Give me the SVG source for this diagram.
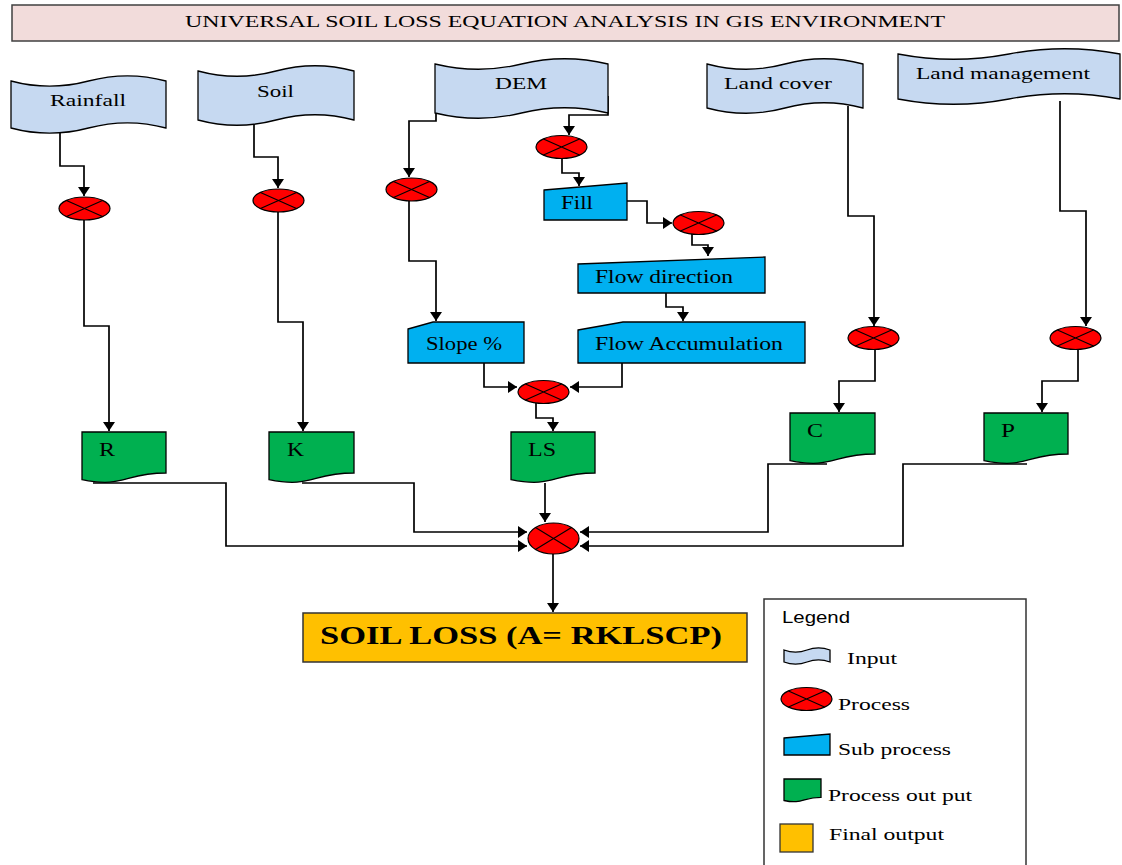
<svg xmlns="http://www.w3.org/2000/svg" width="1122" height="865" viewBox="0 0 1122 865">
<defs>
<style>
.t{font-family:"Liberation Serif","Times New Roman",serif;fill:#000}
.in{fill:#c6d9f1;stroke:#000;stroke-width:1.3}
.sub{fill:#00b0f0;stroke:#000;stroke-width:1.3}
.out{fill:#00b050;stroke:#000;stroke-width:1.3}
.pe{fill:#ff0000;stroke:#000;stroke-width:1.2}
.px{fill:none;stroke:#000;stroke-width:1.1}
.c{fill:none;stroke:#000;stroke-width:1.7;marker-end:url(#ah)}
</style>
<marker id="ah" markerUnits="userSpaceOnUse" markerWidth="12" markerHeight="13" refX="9" refY="6" orient="auto">
<path d="M0,0 L9,6 L0,12 Z" fill="#000"/>
</marker>
<g id="proc">
<ellipse cx="0" cy="0" rx="25.5" ry="11.5" class="pe"/>
<path d="M-18,-8.1 L18,8.1 M-18,8.1 L18,-8.1" class="px"/>
</g>
</defs>
<rect width="1122" height="865" fill="#fff"/>

<g id="title">
<rect x="12" y="5" width="1107" height="36" fill="#f2dcdb" stroke="#404040" stroke-width="1.5"/>
<text class="t" x="185" y="27" font-size="16.5" textLength="760" lengthAdjust="spacingAndGlyphs">UNIVERSAL SOIL LOSS EQUATION ANALYSIS IN GIS ENVIRONMENT</text>
</g>

<g id="connectors">
<path class="c" d="M60,132 V166 H84 V196"/>
<path class="c" d="M84,220 V326 H109 V431"/>
<path class="c" d="M254,124 V157 H278 V188"/>
<path class="c" d="M278,212 V322 H303 V431"/>
<path class="c" d="M436,112 V121 H409 V177"/>
<path class="c" d="M409,201 V261 H436 V321"/>
<path class="c" d="M608,96 V115 H569 V135"/>
<path class="c" d="M562,158 V173 H579 V186"/>
<path class="c" d="M627,201 H647 V223 H672"/>
<path class="c" d="M692,234 V245 H708 V256"/>
<path class="c" d="M666,293 V307 H683 V321"/>
<path class="c" d="M484,363 V387 H517"/>
<path class="c" d="M622,363 V387 H570"/>
<path class="c" d="M536,403 V418 H553 V431"/>
<path class="c" d="M848,106 V216 H874 V326"/>
<path class="c" d="M1060,101 V211 H1086 V326"/>
<path class="c" d="M875,349 V381 H839 V412"/>
<path class="c" d="M1078,349 V381 H1042 V412"/>
<path class="c" d="M93,483 H226 V546 H527"/>
<path class="c" d="M302,483 H414 V532 H527"/>
<path class="c" d="M545,483 V522"/>
<path class="c" d="M827,464 H768 V532 H580"/>
<path class="c" d="M1027,464 H903 V546 H580"/>
<path class="c" d="M553,554 V612"/>
</g>

<g id="rainfall">
<path class="in" d="M11,81 C37,88 62,88 88.5,81 C115,74 140,74 166,81 V128 C140,121 115,121 88.5,128 C62,135 37,135 11,128 Z"/>
<text class="t" x="50" y="106" font-size="17.5" textLength="76" lengthAdjust="spacingAndGlyphs">Rainfall</text>
</g>
<g id="soil">
<path class="in" d="M198,71 C224,78 250,78 276,71 C302,64 328,64 354,71 V120 C328,113 302,113 276,120 C250,127 224,127 198,120 Z"/>
<text class="t" x="257" y="97" font-size="17.5" textLength="37" lengthAdjust="spacingAndGlyphs">Soil</text>
</g>
<g id="dem">
<path class="in" d="M435,64 C464,71 493,71 521.5,64 C550,57 579,57 608,64 V113 C579,106 550,106 521.5,113 C493,120 464,120 435,113 Z"/>
<text class="t" x="495" y="89" font-size="17.5" textLength="52" lengthAdjust="spacingAndGlyphs">DEM</text>
</g>
<g id="landcover">
<path class="in" d="M707,64 C733,71 759,71 785,64 C811,57 837,57 863,64 V108 C837,101 811,101 785,108 C759,115 733,115 707,108 Z"/>
<text class="t" x="724" y="89" font-size="17.5" textLength="108" lengthAdjust="spacingAndGlyphs">Land cover</text>
</g>
<g id="landmanagement">
<path class="in" d="M898,54 C935,61 972,61 1009,54 C1046,47 1083,47 1120,54 V99 C1083,92 1046,92 1009,99 C972,106 935,106 898,99 Z"/>
<text class="t" x="916" y="79" font-size="17.5" textLength="174" lengthAdjust="spacingAndGlyphs">Land management</text>
</g>

<g id="proc-rainfall"><use href="#proc" transform="translate(84.5,208.5)"/></g>
<g id="proc-soil"><use href="#proc" transform="translate(278.5,200.5)"/></g>
<g id="proc-dem-slope"><use href="#proc" transform="translate(411.5,189.5)"/></g>
<g id="proc-dem-fill"><use href="#proc" transform="translate(561.5,147)"/></g>
<g id="proc-flowdir"><use href="#proc" transform="translate(698.5,223)"/></g>
<g id="proc-landcover"><use href="#proc" transform="translate(873.5,338)"/></g>
<g id="proc-landmgmt"><use href="#proc" transform="translate(1075.5,338)"/></g>
<g id="proc-ls"><use href="#proc" transform="translate(543.5,392)"/></g>
<g id="proc-final">
<ellipse cx="553.5" cy="538.5" rx="25.5" ry="15.5" class="pe"/>
<path d="M535.5,527.5 L571.5,549.5 M535.5,549.5 L571.5,527.5" class="px"/>
</g>

<g id="fill">
<path class="sub" d="M544,190 L627,183 V220 H544 Z"/>
<text class="t" x="561" y="209" font-size="18" textLength="32" lengthAdjust="spacingAndGlyphs">Fill</text>
</g>
<g id="flowdirection">
<path class="sub" d="M578,264 L765,257 V293 H578 Z"/>
<text class="t" x="595" y="283" font-size="18" textLength="138" lengthAdjust="spacingAndGlyphs">Flow direction</text>
</g>
<g id="slope">
<path class="sub" d="M408,329 L433,322 H524 V363 H408 Z"/>
<text class="t" x="426" y="350" font-size="18" textLength="76" lengthAdjust="spacingAndGlyphs">Slope %</text>
</g>
<g id="flowaccumulation">
<path class="sub" d="M578,330 L623,322 H805 V363 H578 Z"/>
<text class="t" x="595" y="350" font-size="18" textLength="188" lengthAdjust="spacingAndGlyphs">Flow Accumulation</text>
</g>

<g id="out-r">
<path class="out" d="M82,432 H166 V473 C124,473 124,488.5 82,479.6 Z"/>
<text class="t" x="99" y="456" font-size="19" textLength="16" lengthAdjust="spacingAndGlyphs">R</text>
</g>
<g id="out-k">
<path class="out" d="M269,432 H354 V473 C311.5,473 311.5,488.5 269,479.6 Z"/>
<text class="t" x="287" y="456" font-size="19" textLength="17" lengthAdjust="spacingAndGlyphs">K</text>
</g>
<g id="out-ls">
<path class="out" d="M511,432 H595 V473 C553,473 553,488.5 511,479.6 Z"/>
<text class="t" x="528" y="456" font-size="19" textLength="28" lengthAdjust="spacingAndGlyphs">LS</text>
</g>
<g id="out-c">
<path class="out" d="M790,413 H875 V454 C832.5,454 832.5,469.5 790,460.6 Z"/>
<text class="t" x="807" y="437" font-size="19" textLength="16" lengthAdjust="spacingAndGlyphs">C</text>
</g>
<g id="out-p">
<path class="out" d="M984,413 H1068 V454 C1026,454 1026,469.5 984,460.6 Z"/>
<text class="t" x="1001" y="437" font-size="19" textLength="14" lengthAdjust="spacingAndGlyphs">P</text>
</g>

<g id="final">
<rect x="303" y="613" width="444" height="49" fill="#ffc000" stroke="#333" stroke-width="1.5"/>
<text class="t" x="320" y="644" font-size="26" font-weight="bold" textLength="402" lengthAdjust="spacingAndGlyphs">SOIL LOSS (A= RKLSCP)</text>
</g>

<g id="legend">
<rect x="764" y="599" width="262" height="280" fill="#fff" stroke="#333" stroke-width="1.5"/>
<text x="782" y="623" font-family="Liberation Sans, Arial, sans-serif" font-size="16" textLength="68" lengthAdjust="spacingAndGlyphs">Legend</text>
<path class="in" d="M784,650 C792,653 799,653 807,650 C815,647 822,647 830,650 V662 C822,659 815,659 807,662 C799,665 792,665 784,662 Z"/>
<text class="t" x="847" y="664" font-size="16" textLength="50" lengthAdjust="spacingAndGlyphs">Input</text>
<use href="#proc" transform="translate(806.5,699)"/>
<text class="t" x="838" y="710" font-size="16" textLength="72" lengthAdjust="spacingAndGlyphs">Process</text>
<path class="sub" d="M784,738 L830,734 V755 H784 Z"/>
<text class="t" x="838" y="755" font-size="16" textLength="113" lengthAdjust="spacingAndGlyphs">Sub process</text>
<path class="out" d="M784,779 H821 V797.4 C802.5,797.4 802.5,804.5 784,800.5 Z"/>
<text class="t" x="828" y="801" font-size="16" textLength="144" lengthAdjust="spacingAndGlyphs">Process out put</text>
<rect x="780" y="824" width="33" height="28" fill="#ffc000" stroke="#333" stroke-width="1.3"/>
<text class="t" x="829" y="840" font-size="16" textLength="115" lengthAdjust="spacingAndGlyphs">Final output</text>
</g>
</svg>
